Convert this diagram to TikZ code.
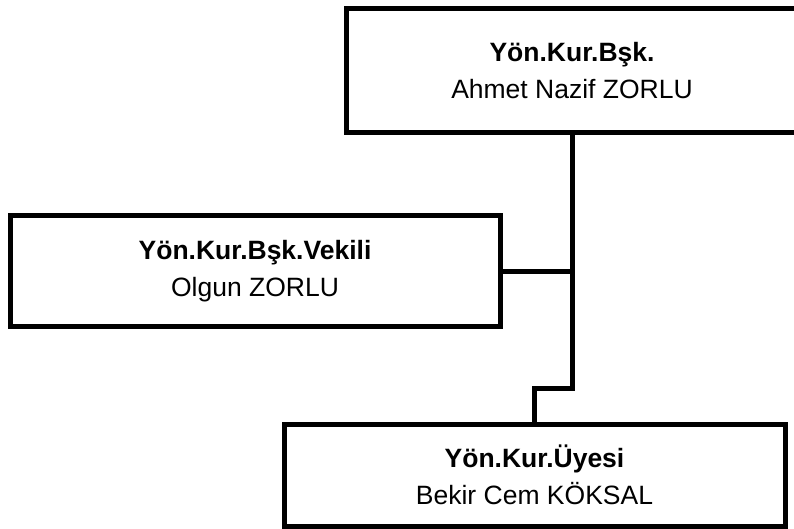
\documentclass[tikz,border=0pt]{standalone}
\usepackage{fontspec}
\setmainfont{Liberation Sans}
\usetikzlibrary{positioning,calc}

\begin{document}
\begin{tikzpicture}[x=1pt, y=-1pt, line width=5pt,
    kutu/.style={draw, rectangle, align=center, inner sep=0pt,
      font=\fontsize{26.5}{37}\selectfont}]
        \useasboundingbox (0,0) rectangle (794,529);
        \node [kutu, minimum width=452, minimum height=124] (bsk) at (572,71) {\textbf{Yön.Kur.Bşk.}\\Ahmet Nazif ZORLU};
        \node [kutu, minimum width=490, minimum height=110] (vekil) at (255,271) {\textbf{Yön.Kur.Bşk.Vekili}\\Olgun ZORLU};
        \node [kutu, minimum width=501, minimum height=102] (uye) at (534.5,475) {\textbf{Yön.Kur.Üyesi}\\Bekir Cem KÖKSAL};
        \coordinate (kirik) at (572,388);
        \draw (bsk.south) -- (kirik) -| (uye.north);
        \draw (vekil.east) -- (vekil.east -| bsk.south);
      \end{tikzpicture}
\end{document}
